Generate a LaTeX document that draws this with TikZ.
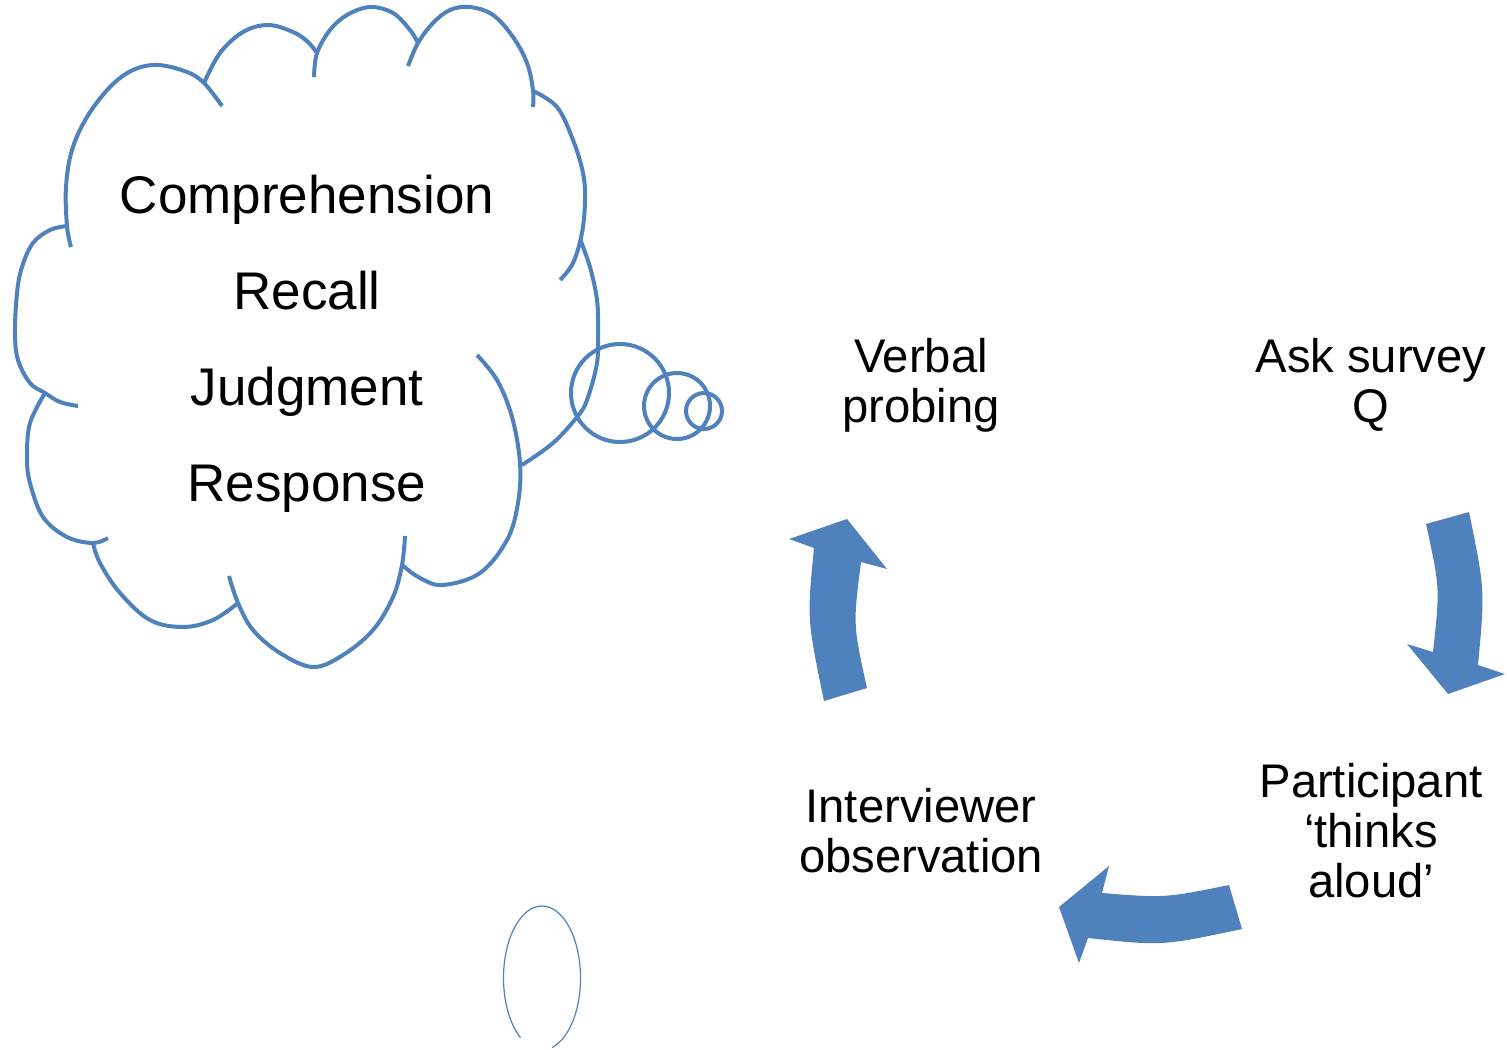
\documentclass[tikz,border=0pt]{standalone}
\usepackage{fontspec}
\setmainfont{Liberation Sans}
\definecolor{accent}{RGB}{79,129,189}
\begin{document}
\begin{tikzpicture}[x=0.5pt,y=-0.5pt,
  cloudline/.style={draw=accent, line width=2pt, line cap=butt},
  bubble/.style={draw=accent, line width=2pt},
  bigarrow/.style={fill=accent, draw=none},
  cloudtext/.style={font=\fontsize{26.5}{48}\selectfont, align=center, anchor=base, inner sep=0pt},
  cycletext/.style={font=\fontsize{23.6}{25}\selectfont, align=center, anchor=base, inner sep=0pt},
]
\useasboundingbox (0,0) rectangle (1507,1049);

% cloud lobes
\draw[cloudline] plot[smooth, tension=0.6] coordinates {(71,247) (67,226) (66,187) (72,150) (87,117) (110,87) (133,70) (158,65) (187,72) (204,83) (222,106)};
\draw[cloudline] plot[smooth, tension=0.6] coordinates {(204,83) (220,53) (243,32) (268,25) (293,32) (308,42) (317,53)};
\draw[cloudline] plot[smooth, tension=0.6] coordinates {(314,77) (317,53) (330,30) (347,15) (370,7) (393,13) (410,30) (418,43)};
\draw[cloudline] plot[smooth, tension=0.6] coordinates {(408,66) (418,43) (433,23) (450,10) (470,7) (493,15) (513,37) (527,63) (533,90) (533,107)};
\draw[cloudline] plot[smooth, tension=0.6] coordinates {(533,91) (557,107) (573,140) (583,173) (585,200) (582,233) (573,263) (560,280)};
\draw[cloudline] plot[smooth, tension=0.6] coordinates {(580,239) (590,267) (597,300) (598,330) (597,363) (587,400) (577,417) (553,443) (522,465)};
\draw[cloudline] plot[smooth, tension=0.6] coordinates {(477,355) (497,380) (512,417) (520,463) (518,503) (507,540) (480,573) (443,585) (420,578) (402,565)};
\draw[cloudline] plot[smooth, tension=0.6] coordinates {(405,536) (402,565) (393,597) (373,630) (343,655) (313,667) (280,653) (253,630) (238,603) (229,576)};
\draw[cloudline] plot[smooth, tension=0.6] coordinates {(238,603) (213,620) (183,627) (150,620) (120,593) (100,563) (93,543)};
\draw[cloudline] plot[smooth, tension=0.6] coordinates {(108,538) (93,543) (67,537) (43,517) (30,483) (27,457) (30,423) (45,393)};
\draw[cloudline] plot[smooth, tension=0.6] coordinates {(67,226) (50,230) (33,243) (22,267) (17,293) (15,333) (18,360) (30,383) (45,393) (60,402) (78,406)};

% thought bubbles
\draw[bubble] (620,393) circle[radius=49];
\draw[bubble] (677,406) circle[radius=33];
\draw[bubble] (704,411) circle[radius=18];

% small open ellipse
\draw[accent, line width=0.6pt] (542,978) ++(124:38.5 and 72) arc[start angle=124, end angle=435, x radius=38.5, y radius=72];

% cycle arrows
\fill[bigarrow] (847,519) -- (887,569) -- (861,562) .. controls (853,625) .. (867,688) -- (824,701) .. controls (807,619) .. (814,548) -- (789,539) -- cycle;
\fill[bigarrow] (1426,524) -- (1469,512) .. controls (1485,590) .. (1478,665) -- (1505,674) -- (1448,694) -- (1407,644) -- (1433,652) .. controls (1440,588) .. (1426,524) -- cycle;
\fill[bigarrow] (1229,885) -- (1242,929) .. controls (1162,946) .. (1088,938) -- (1079,963) -- (1059,907) -- (1109,866) -- (1102,893) .. controls (1165,898) .. (1229,885) -- cycle;

% texts (base anchor = baseline of the last line)
\node[cloudtext] (stages) at (307,501) {Comprehension\\Recall\\Judgment\\Response};
\node[cycletext] (probe) at (921,422) {Verbal\\probing};
\node[cycletext] (ask) at (1371,422) {Ask survey\\Q};
\node[cycletext] (think) at (1371,897) {Participant\\‘thinks\\aloud’};
\node[cycletext] (observe) at (921,872) {Interviewer\\observation};
\end{tikzpicture}
\end{document}
